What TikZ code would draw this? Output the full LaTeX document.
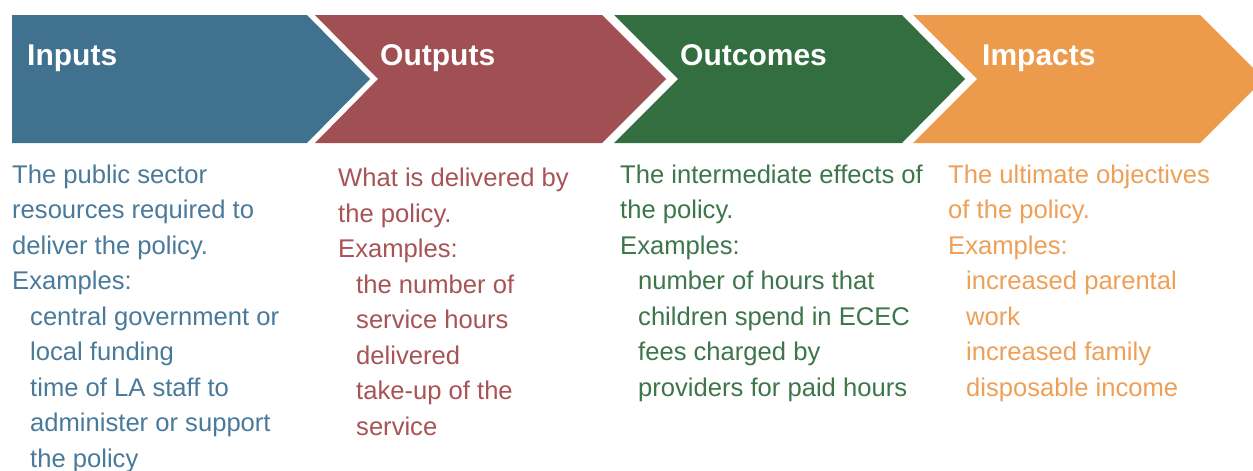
\documentclass[tikz,border=0pt]{standalone}
\usepackage{fontspec}
\setmainfont{Liberation Sans}
\definecolor{cin}{RGB}{64,114,143}
\definecolor{cout}{RGB}{160,80,82}
\definecolor{coc}{RGB}{51,110,65}
\definecolor{cim}{RGB}{236,154,76}
\definecolor{tin}{RGB}{74,122,155}
\definecolor{tout}{RGB}{168,84,86}
\definecolor{toc}{RGB}{60,118,74}
\definecolor{tim}{RGB}{238,160,88}
\tikzset{
  head/.style={anchor=base west, inner sep=0pt, text=white, font=\fontsize{30}{36}\selectfont\bfseries},
  body/.style={anchor=base west, inner sep=0pt, align=left, font=\fontsize{25.6}{35.5}\selectfont},
}
\newcommand{\ind}{\hspace*{18pt}}
\begin{document}
\begin{tikzpicture}[x=1pt,y=-1pt]
\clip (0,0) rectangle (1253,471);
\fill[white] (0,0) rectangle (1253,471);
% chevrons
\fill[cin] (12,15) -- (307,15) -- (370,79) -- (307,143) -- (12,143) -- cycle;
\fill[cout] (315,15) -- (602,15) -- (666,79) -- (602,143) -- (315,143) -- (378,79) -- cycle;
\fill[coc] (614,15) -- (902,15) -- (965,79) -- (902,143) -- (614,143) -- (678,79) -- cycle;
\fill[cim] (913,15) -- (1200,15) -- (1264,79) -- (1200,143) -- (913,143) -- (977,79) -- cycle;
% headings
\node[head] (hin) at (27,65) {Inputs};
\node[head] (hout) at (380,65) {Outputs};
\node[head] (hoc) at (680,65) {Outcomes};
\node[head] (him) at (982,65) {Impacts};
% bodies (anchored at the baseline of the last line)
\node[body, text=tin] (bin) at (12,467) {The public sector\\resources required to\\deliver the policy.\\Examples:\\\ind central government or\\\ind local funding\\\ind time of LA staff to\\\ind administer or support\\\ind the policy};
\node[body, text=tout] (bout) at (338,435) {What is delivered by\\the policy.\\Examples:\\\ind the number of\\\ind service hours\\\ind delivered\\\ind take-up of the\\\ind service};
\node[body, text=toc] (boc) at (620,396) {The intermediate effects of\\the policy.\\Examples:\\\ind number of hours that\\\ind children spend in ECEC\\\ind fees charged by\\\ind providers for paid hours};
\node[body, text=tim] (bim) at (948,396) {The ultimate objectives\\of the policy.\\Examples:\\\ind increased parental\\\ind work\\\ind increased family\\\ind disposable income};
\end{tikzpicture}
\end{document}
